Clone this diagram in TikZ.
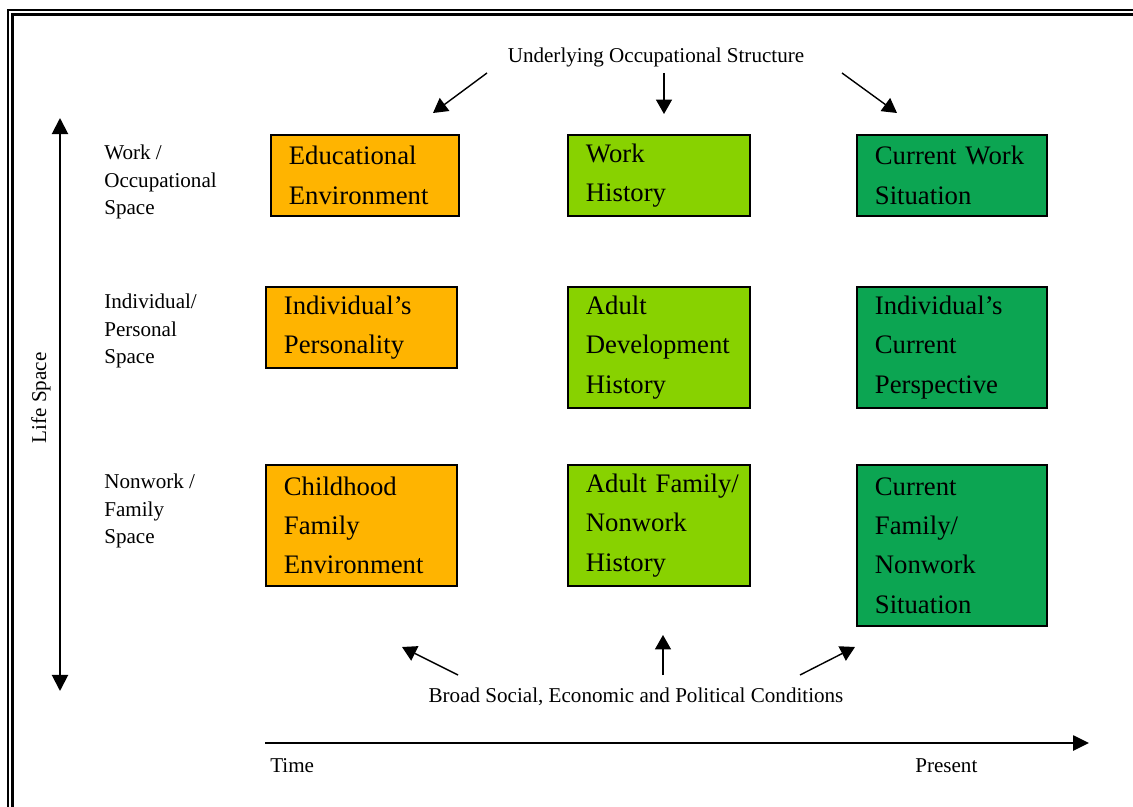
\documentclass[tikz,border=0pt]{standalone}
\usepackage{fontspec}
\setmainfont{Liberation Serif}
\usetikzlibrary{arrows.meta, positioning}

\definecolor{earlyorange}{RGB}{255,180,0}
\definecolor{midgreen}{RGB}{136,210,0}
\definecolor{nowgreen}{RGB}{12,165,82}

\tikzset{
  stage/.style={draw, line width=1.3pt, anchor=north west, inner xsep=0.45cm, inner ysep=0pt,
                align=left, font=\fontsize{19}{28}\selectfont},
  side/.style={anchor=west, inner sep=0pt, align=left, font=\fontsize{15}{19.5}\selectfont},
  flow/.style={-{Triangle[length=0.36cm,width=0.4cm]}, line width=1pt},
  axis/.style={line width=1.4pt},
}

\begin{document}
\begin{tikzpicture}[x=0.025cm, y=-0.025cm]
\clip (0,0) rectangle (1133,807);

\draw[line width=0.06cm] (8,10) rectangle (1160,840);
\draw[line width=0.06cm] (12.5,14.5) rectangle (1156,836);

\node[stage, fill=earlyorange, text width=3.8cm,   minimum height=2.025cm] (EduEnv) at (270,134) {Educational\\Environment};
\node[stage, fill=midgreen,    text width=3.65cm,  minimum height=2.025cm] (WorkHist) at (567,134) {Work\\History};
\node[stage, fill=nowgreen,    text width=3.85cm,  minimum height=2.025cm] (CurWork) at (856,134) {Current Work\\Situation};

\node[stage, fill=earlyorange, text width=3.875cm, minimum height=2.025cm] (Person) at (265,286) {Individual's\\Personality};
\node[stage, fill=midgreen,    text width=3.65cm,  minimum height=3.025cm] (AdultDev) at (567,286) {Adult\\Development\\History};
\node[stage, fill=nowgreen,    text width=3.85cm,  minimum height=3.025cm] (CurPersp) at (856,286) {Individual's\\Current\\Perspective};

\node[stage, fill=earlyorange, text width=3.875cm, minimum height=3.025cm] (ChildFam) at (265,464) {Childhood\\Family\\Environment};
\node[stage, fill=midgreen,    text width=3.65cm,  minimum height=3.025cm] (AdultFam) at (567,464) {\mbox{Adult Family/}\\Nonwork\\History};
\node[stage, fill=nowgreen,    text width=3.85cm,  minimum height=4.025cm] (CurFam) at (856,464) {Current\\Family/\\Nonwork\\Situation};

\node[side] (WorkSp) at (104,182) {Work /\\Occupational\\Space};
\node[side] (IndSp)  at (104,331) {Individual/\\Personal\\Space};
\node[side] (FamSp)  at (104,511) {Nonwork /\\Family\\Space};

\node[side, anchor=center] (Struct) at (656,57)  {Underlying Occupational Structure};
\node[side, anchor=center] (Cond)   at (636,697) {Broad Social, Economic and Political Conditions};
\node[side] (Time)    at (270,766) {Time};
\node[side] (Present) at (915,766) {Present};
\node[side, anchor=center, rotate=90] (LifeSp) at (41,398) {Life Space};

% arrows from the top and bottom labels
\coordinate (s1) at (487,73);  \coordinate (e1) at (433,113);
\coordinate (s2) at (664,73);  \coordinate (e2) at (664,114);
\coordinate (s3) at (842,73);  \coordinate (e3) at (897,113);
\coordinate (c1) at (458,675); \coordinate (f1) at (402,647);
\coordinate (c2) at (663,675); \coordinate (f2) at (663,635);
\coordinate (c3) at (800,675); \coordinate (f3) at (855,647);

\draw[flow] (s1) -- (e1);
\draw[flow] (s2) -- (e2);
\draw[flow] (s3) -- (e3);
\draw[flow] (c1) -- (f1);
\draw[flow] (c2) -- (f2);
\draw[flow] (c3) -- (f3);

% axes
\coordinate (LifeTop) at (60,118);
\coordinate (LifeBot) at (60,691);
\coordinate (TimeL) at (265,743);
\coordinate (TimeR) at (1089,743);
\draw[axis, {Triangle[length=0.4cm,width=0.4cm]}-{Triangle[length=0.4cm,width=0.4cm]}] (LifeTop) -- (LifeBot);
\draw[axis, -{Triangle[length=0.4cm,width=0.38cm]}] (TimeL) -- (TimeR);
\end{tikzpicture}
\end{document}
